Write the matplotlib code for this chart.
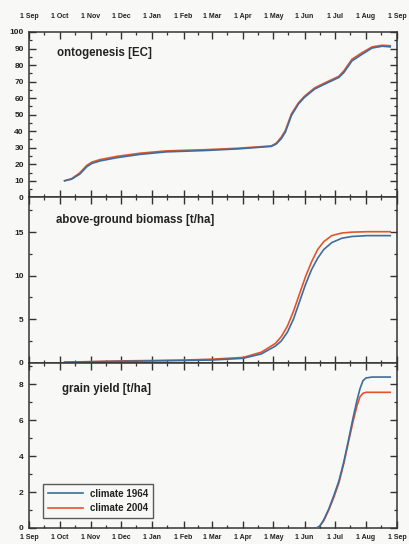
import matplotlib
matplotlib.use("Agg")
import matplotlib.pyplot as plt
from matplotlib.ticker import MultipleLocator, FixedLocator

plt.rcParams['font.family'] = ['Liberation Sans', 'DejaVu Sans']

# ---- data (x = days since 1 September) ----
month_days = [0, 30, 61, 91, 122, 153, 181, 212, 242, 273, 303, 334, 365]
month_labels = ['1 Sep', '1 Oct', '1 Nov', '1 Dec', '1 Jan', '1 Feb', '1 Mar',
                '1 Apr', '1 May', '1 Jun', '1 Jul', '1 Aug', '1 Sep']
mid_days = [15, 45, 76, 106, 137, 167, 196, 227, 257, 288, 318, 349]

series_names = ['climate 1964', 'climate 2004']

onto_days = [35, 42, 50, 57, 62, 70, 87, 110, 136, 174, 207, 240, 245, 250,
             254, 260, 267, 273, 283, 293, 307, 312, 320, 330, 340, 350, 358]
onto_1964 = [10, 11, 14, 18.5, 20.5, 22, 24, 26, 27.5, 28.3, 29.3, 30.8, 32.3, 35.5,
             39.5, 49.5, 56.5, 60.5, 65.5, 68.5, 72.5, 75.5, 82.5, 86.5, 90.3, 91.4, 91]
onto_2004 = [10, 11.3, 14.8, 19.3, 21.3, 22.8, 24.8, 26.7, 28.1, 28.8, 29.7, 31.1, 32.8, 36.5,
             40.5, 50.5, 57.2, 61.2, 66.2, 69.2, 73.2, 76.5, 83.5, 87.5, 91, 92, 91.7]

bio_days = [35, 60, 90, 122, 153, 181, 212, 230, 244, 250, 256, 262, 268, 274,
            280, 286, 292, 300, 310, 320, 335, 358]
bio_1964 = [0.05, 0.1, 0.15, 0.2, 0.25, 0.3, 0.5, 1.0, 1.9, 2.5, 3.5, 5.0, 7.0, 9.0,
            10.7, 12.0, 13.0, 13.8, 14.3, 14.5, 14.6, 14.6]
bio_2004 = [0.05, 0.12, 0.2, 0.25, 0.3, 0.4, 0.6, 1.2, 2.2, 3.0, 4.2, 5.9, 7.9, 9.9,
            11.6, 13.0, 13.9, 14.6, 14.9, 15.0, 15.05, 15.05]

grain_days = [285, 288, 292, 297, 302, 307, 312, 317, 321, 325, 328, 331, 334, 340, 358]
grain_1964 = [0, 0.1, 0.45, 1.05, 1.8, 2.6, 3.7, 5.0, 6.1, 7.1, 7.75, 8.2, 8.35, 8.4, 8.4]
grain_2004 = [0, 0.1, 0.4, 1.0, 1.7, 2.5, 3.6, 4.9, 5.9, 6.8, 7.3, 7.5, 7.55, 7.55, 7.55]

panel_titles = ['ontogenesis [EC]', 'above-ground biomass [t/ha]', 'grain yield [t/ha]']

colors = ['#3d6d9c', '#e4542c']
bg = '#f8f8f6'

fig = plt.figure(figsize=(4.10, 5.44), dpi=100, facecolor=bg)
left, right = 29.3 / 410, 397.3 / 410
top_px, bot_px = 32, 528
W, H = 410, 544
h_each = (bot_px - top_px) / 3
axes = []
for i in range(3):
    y0 = 1 - (top_px + (i + 1) * h_each) / H
    ax = fig.add_axes([left, y0, right - left, h_each / H], facecolor=bg)
    axes.append(ax)

data = [
    (onto_days, onto_1964, onto_2004, (0, 100), 10, 5),
    (bio_days, bio_1964, bio_2004, (0, 19), 5, 2.5),
    (grain_days, grain_1964, grain_2004, (0, 9.2), 2, 1),
]
title_pos = [(0.075, 0.873), (0.072, 0.864), (0.088, 0.84)]

for i, (ax, (dx, y64, y04, ylim, maj, mnr)) in enumerate(zip(axes, data)):
    ax.plot(dx, y64, color=colors[0], lw=1.2, label=series_names[0], zorder=3)
    ax.plot(dx, y04, color=colors[1], lw=1.2, label=series_names[1], zorder=2)
    ax.set_xlim(0, 365)
    ax.set_ylim(*ylim)
    ax.yaxis.set_major_locator(MultipleLocator(maj))
    ax.yaxis.set_minor_locator(MultipleLocator(mnr))
    ax.xaxis.set_major_locator(FixedLocator(month_days))
    ax.xaxis.set_minor_locator(FixedLocator(mid_days))
    ax.tick_params(which='major', direction='in', length=5, width=1.0,
                   top=True, right=True, color='#333333', pad=4)
    ax.tick_params(which='minor', direction='in', length=2.5, width=0.9,
                   top=True, right=True, color='#333333')
    for sp in ax.spines.values():
        sp.set_color('#333333')
        sp.set_linewidth(1.1)
    yt = [v for v in ax.get_yticks() if ylim[0] <= v <= ylim[1]]
    ax.set_yticks(yt)
    ax.set_yticklabels([('%g' % v) for v in yt], fontsize=6, fontweight='bold',
                       color='#222222')
    ax.text(title_pos[i][0], title_pos[i][1], panel_titles[i], transform=ax.transAxes,
            fontsize=8.3, fontweight='bold', color='#222222', va='center', ha='left')
    if i == 0:
        ax.tick_params(axis='x', labeltop=True, labelbottom=False, pad=9)
        ax.set_xticklabels(month_labels, fontsize=5, fontweight='bold', color='#222222')
    elif i == 2:
        ax.tick_params(axis='x', labeltop=False, labelbottom=True, pad=4)
        ax.set_xticklabels(month_labels, fontsize=5, fontweight='bold', color='#222222')
    else:
        ax.tick_params(axis='x', labeltop=False, labelbottom=False)

leg = axes[2].legend(loc='lower left', bbox_to_anchor=(0.038, 0.061), borderaxespad=0,
                     prop={'size': 7, 'weight': 'bold'}, frameon=True, fancybox=False,
                     handlelength=3.6, borderpad=0.5, labelspacing=0.45,
                     handletextpad=0.7, facecolor=bg)
leg.get_frame().set_edgecolor('#333333')
leg.get_frame().set_linewidth(1.0)
for t in leg.get_texts():
    t.set_color('#222222')

fig.savefig('out.png', dpi=100, facecolor=bg)
